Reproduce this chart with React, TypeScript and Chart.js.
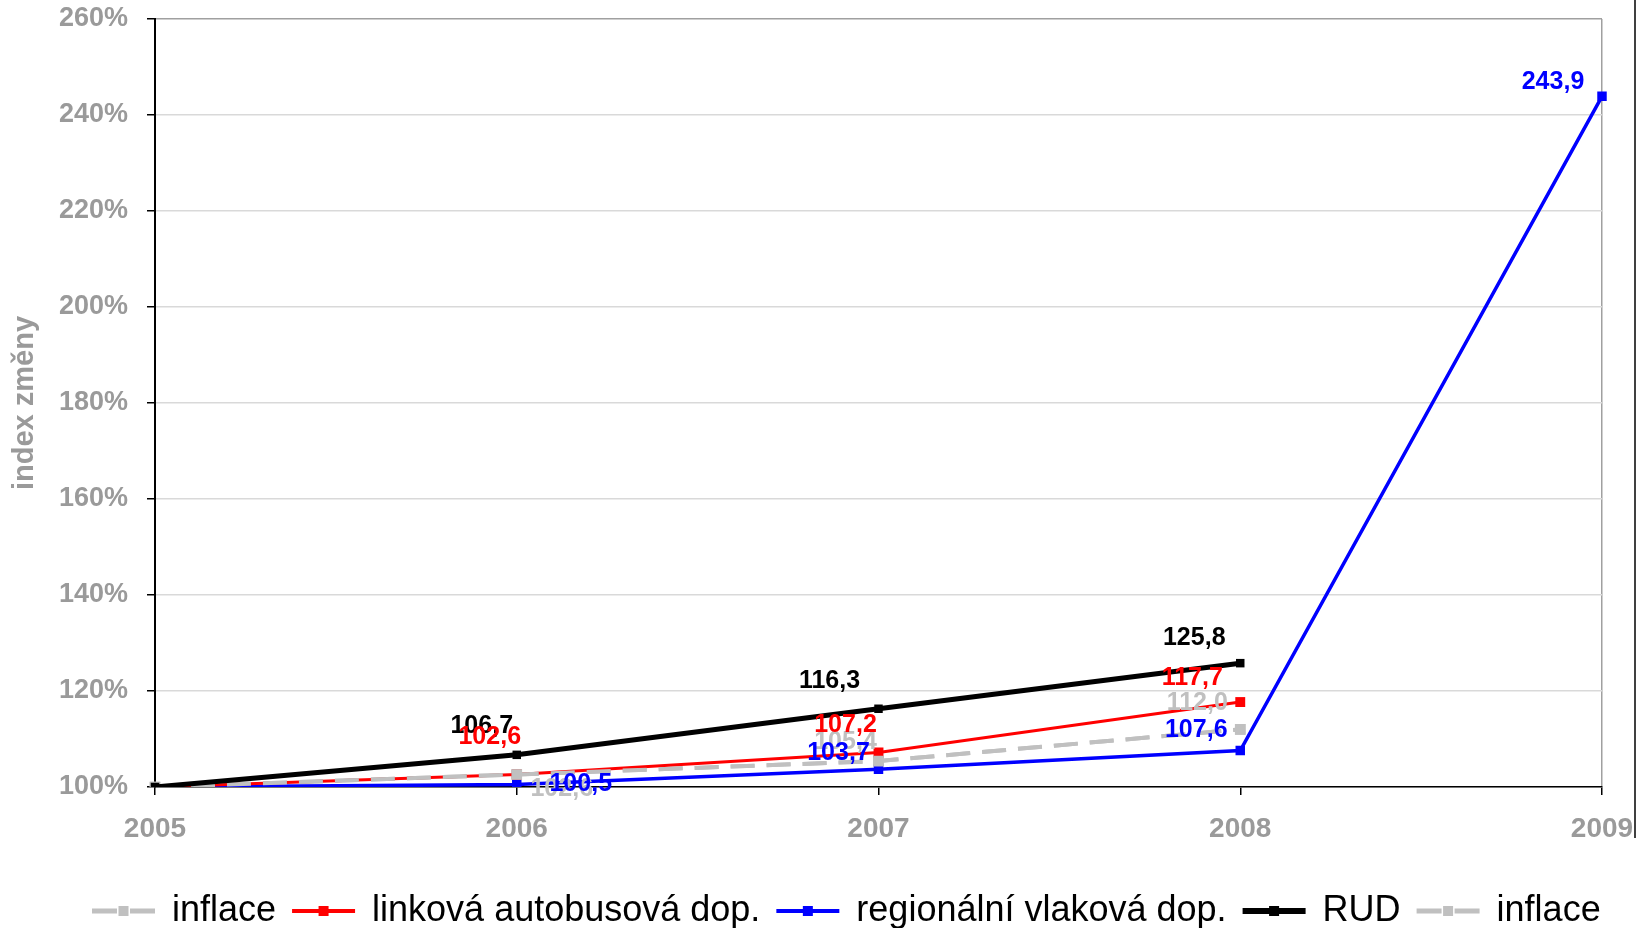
import React, { useEffect, useRef } from 'react';
import { Chart, registerables } from 'chart.js';

Chart.register(...registerables);

// ---- data ----
const years = ['2005', '2006', '2007', '2008', '2009'];
const inflace = [100, 102.6, 105.4, 112.0, null];
const linkova = [100, 102.6, 107.2, 117.7, null];
const regionalni = [100, 100.5, 103.7, 107.6, 243.9];
const rud = [100, 106.7, 116.3, 125.8, null];
const seriesNames = ['inflace', 'linková autobusová dop.', 'regionální vlaková dop.', 'RUD', 'inflace'];
const yMin = 100;
const yMax = 260;
const yStep = 20;
const yTitle = 'index změny';

// ---- styles ----
const GRAY = '#c0c0c0';
const RED = '#ff0000';
const BLUE = '#0000ff';
const BLACK = '#000000';
const AXIS_TEXT = '#9a9a9a';
const FONT = '"Liberation Sans", Arial, sans-serif';

// label offsets (dx, dy) per dataset index, null = no label
const labelOffsets: Record<number, ([number, number] | null)[]> = {
  0: [null, [45, 15], [-33, -19], [-43, -26], null],
  3: [null, [-35, -29], [-49, -28], [-46, -25], null],
  1: [null, [-27, -37], [-33, -27], [-48, -24], null],
  2: [null, [64, 0], [-40, -16], [-44, -20], [-49, -14]],
};
const labelColors: Record<number, string> = { 0: GRAY, 1: RED, 2: BLUE, 3: BLACK };
const labelDrawOrder = [0, 3, 1, 2];

const legendStyle = [
  { color: GRAY, width: 5, dashed: true, marker: 10 },
  { color: RED, width: 4, dashed: false, marker: 10 },
  { color: BLUE, width: 4, dashed: false, marker: 10 },
  { color: BLACK, width: 6, dashed: false, marker: 10 },
  { color: GRAY, width: 5, dashed: true, marker: 10 },
];

const fmt = (v: number) => v.toFixed(1).replace('.', ',');

const valueLabelPlugin = {
  id: 'valueLabels',
  afterDatasetsDraw(chart: any) {
    const ctx = chart.ctx;
    ctx.save();
    ctx.font = `bold 25px ${FONT}`;
    ctx.textAlign = 'center';
    ctx.textBaseline = 'middle';
    labelDrawOrder.forEach((di) => {
      const ds = chart.data.datasets[di];
      const meta = chart.getDatasetMeta(di);
      const offs = labelOffsets[di];
      ctx.fillStyle = labelColors[di];
      ds.data.forEach((v: number | null, j: number) => {
        const off = offs[j];
        if (v == null || !off) return;
        const el = meta.data[j];
        ctx.fillText(fmt(v), el.x + off[0], el.y + off[1]);
      });
    });
    ctx.restore();
  },
};

const legendPlugin = {
  id: 'customLegend',
  afterDraw(chart: any) {
    const ctx = chart.ctx;
    ctx.save();
    ctx.font = `36px ${FONT}`;
    ctx.textBaseline = 'middle';
    ctx.textAlign = 'left';
    const y = 911;
    let x = 92;
    const sampleW = 63;
    seriesNames.forEach((name, i) => {
      const st = legendStyle[i];
      ctx.strokeStyle = st.color;
      ctx.lineWidth = st.width;
      ctx.beginPath();
      if (st.dashed) {
        ctx.moveTo(x, y);
        ctx.lineTo(x + 25, y);
        ctx.moveTo(x + 38, y);
        ctx.lineTo(x + sampleW, y);
      } else {
        ctx.moveTo(x, y);
        ctx.lineTo(x + sampleW, y);
      }
      ctx.stroke();
      ctx.fillStyle = st.color;
      const m = st.marker;
      ctx.fillRect(x + sampleW / 2 - m / 2, y - m / 2, m, m);
      x += sampleW + 17;
      ctx.fillStyle = '#000';
      ctx.fillText(name, x, y);
      x += ctx.measureText(name).width + 16;
    });
    ctx.restore();
  },
};

const framePlugin = {
  id: 'frameLine',
  afterDraw(chart: any) {
    const ctx = chart.ctx;
    const xPos = chart.chartArea.right + 33;
    ctx.save();
    ctx.strokeStyle = '#000';
    ctx.lineWidth = 1.5;
    ctx.beginPath();
    ctx.moveTo(xPos, 0);
    ctx.lineTo(xPos, 838);
    ctx.stroke();
    ctx.restore();
  },
};

export default function App() {
  const ref = useRef<HTMLCanvasElement | null>(null);

  useEffect(() => {
    if (!ref.current) return;
    const lineDs = (label: string, data: (number | null)[], color: string, width: number, radius: number, order: number, dash?: number[]) => ({
      label,
      data,
      borderColor: color,
      backgroundColor: color,
      borderWidth: width,
      borderDash: dash || [],
      pointStyle: 'rect',
      pointRadius: radius,
      pointBorderWidth: 0,
      pointBackgroundColor: color,
      tension: 0,
      fill: false,
      order,
    });
    const chart = new Chart(ref.current, {
      type: 'line',
      data: {
        labels: years,
        datasets: [
          lineDs(seriesNames[0], inflace, GRAY, 4, 7.5, 1, [24, 12]),
          lineDs(seriesNames[1], linkova, RED, 3, 7, 2),
          lineDs(seriesNames[2], regionalni, BLUE, 3.5, 6.7, 3),
          lineDs(seriesNames[3], rud, BLACK, 5, 6, 0),
          lineDs(seriesNames[4], inflace, GRAY, 4, 7.5, 4, [24, 12]),
        ],
      },
      options: {
        responsive: false,
        animation: false,
        layout: { padding: { top: 19, right: 43, left: 0, bottom: 81 } },
        plugins: {
          legend: { display: false },
          tooltip: { enabled: false },
        },
        scales: {
          x: {
            type: 'category',
            offset: false,
            grid: {
              offset: false,
              color: (c: any) => (c.index === years.length - 1 ? '#a0a0a0' : 'rgba(0,0,0,0)'),
              lineWidth: 1.5,
              tickColor: '#000',
              tickLength: 8,
              drawTicks: true,
            },
            border: { color: '#000', width: 1.5 },
            ticks: {
              color: AXIS_TEXT,
              font: { family: FONT, weight: 'bold', size: 28 },
              padding: 17,
              maxRotation: 0,
              autoSkip: false,
            },
            afterFit: (s: any) => {
              s.height = 60;
              s.paddingLeft = 0;
              s.paddingRight = 0;
              s.paddingTop = 0;
              s.paddingBottom = 0;
            },
          },
          y: {
            min: yMin,
            max: yMax,
            grid: {
              color: (c: any) => (c.tick && c.tick.value === yMax ? '#a0a0a0' : '#d9d9d9'),
              lineWidth: 1.5,
              tickColor: '#000',
              tickLength: 8,
            },
            border: { color: '#000', width: 2 },
            ticks: {
              stepSize: yStep,
              color: AXIS_TEXT,
              font: { family: FONT, weight: 'bold', size: 27 },
              padding: 19,
              callback: (v: any) => `${v}%`,
            },
            title: {
              display: true,
              text: yTitle,
              color: AXIS_TEXT,
              font: { family: FONT, weight: 'bold', size: 29 },
              padding: { top: 8, bottom: 0 },
            },
            afterFit: (s: any) => {
              s.width = 155;
              s.paddingLeft = 0;
              s.paddingRight = 0;
              s.paddingTop = 0;
              s.paddingBottom = 0;
            },
          },
        },
      },
      plugins: [valueLabelPlugin, legendPlugin, framePlugin],
    } as any);
    return () => chart.destroy();
  }, []);

  return (
    <div style={{ position: 'fixed', left: 0, top: 0, width: 1645, height: 928, background: '#fff' }}>
      <canvas ref={ref} width={1645} height={928} style={{ display: 'block', width: 1645, height: 928 }} />
    </div>
  );
}
